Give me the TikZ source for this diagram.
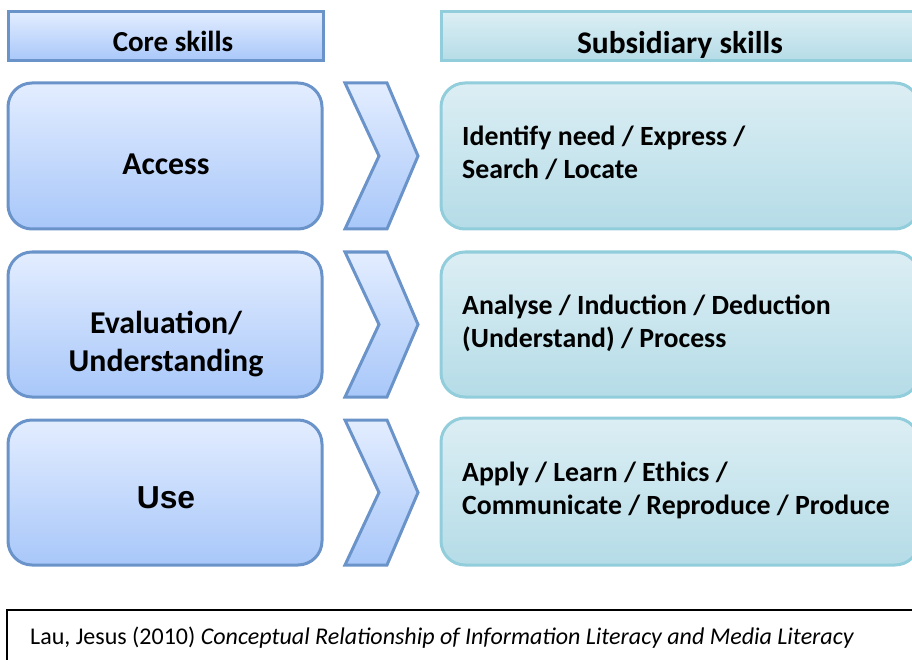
\documentclass[tikz,border=0pt]{standalone}
\usepackage{fontspec}
\setmainfont{Carlito}
\newfontfamily\arialfont{Liberation Sans}
\definecolor{lbTop}{HTML}{E3EDFF}
\definecolor{lbBot}{HTML}{A8C7F9}
\definecolor{lbLine}{HTML}{6A94C9}
\definecolor{rbTop}{HTML}{DCEEF4}
\definecolor{rbBot}{HTML}{B5DCE7}
\definecolor{rbLine}{HTML}{92CDDC}
\begin{document}
\begin{tikzpicture}[x=1pt,y=-1pt,
  leftbox/.style={draw=lbLine,line width=3pt,top color=lbTop,bottom color=lbBot,rounded corners=24pt,inner sep=0pt},
  lefthead/.style={draw=lbLine,line width=3pt,top color=lbTop,bottom color=lbBot,inner sep=0pt},
  rightbox/.style={draw=rbLine,line width=3pt,top color=rbTop,bottom color=rbBot,rounded corners=24pt,inner sep=0pt},
  righthead/.style={draw=rbLine,line width=3pt,top color=rbTop,bottom color=rbBot,inner sep=0pt},
  lefttext/.style={align=center,inner sep=0pt,font=\bfseries\fontsize{31.8}{38}\selectfont},
  righttext/.style={anchor=west,align=left,inner sep=0pt,font=\bfseries\fontsize{27.8}{33}\selectfont},
  chevron/.style={draw=lbLine,line width=3pt,top color=lbTop,bottom color=lbBot,line join=miter}]
\useasboundingbox (0,0) rectangle (912,660);
\clip (0,0) rectangle (912,660);
% headers
\node[lefthead,minimum width=315pt,minimum height=49pt] (corehead) at (165.5,36.5) {};
\node[inner sep=0pt,font=\bfseries\fontsize{29}{30}\selectfont] (coretxt) at (173,41) {Core skills};
\node[righthead,minimum width=480pt,minimum height=49pt] (subhead) at (681,36.5) {};
\node[inner sep=0pt,font=\bfseries\fontsize{31.5}{32}\selectfont] (subheadtxt) at (680,45) {Subsidiary skills};
% left boxes
\node[leftbox,minimum width=314pt,minimum height=146pt] (access) at (165,156) {};
\node[lefttext] (accesstxt) at (166,164) {Access};
\node[leftbox,minimum width=314pt,minimum height=145pt] (eval) at (165,324.5) {};
\node[lefttext] (evaltxt) at (166,344) {Evaluation/\\Understanding};
\node[leftbox,minimum width=314pt,minimum height=145pt] (use) at (165,492.5) {};
\node[inner sep=0pt,font=\arialfont\bfseries\fontsize{31.8}{32}\selectfont] (usetxt) at (166,497.5) {Use};
% chevrons
\foreach \t/\b/\n in {83/229/c1,252/397/c2,420/565/c3}{
  \coordinate (\n a) at (345,\t);
  \coordinate (\n b) at (387,\t);
  \coordinate (\n c) at (418,{(\t+\b)/2});
  \coordinate (\n d) at (387,\b);
  \coordinate (\n e) at (345,\b);
  \coordinate (\n f) at (379,{(\t+\b)/2});
  \path[chevron] (\n a) -- (\n b) -- (\n c) -- (\n d) -- (\n e) -- (\n f) -- cycle;
}
% right boxes
\node[rightbox,minimum width=478pt,minimum height=146pt] (r1) at (680,156) {};
\node[righttext] (r1txt) at (462,153) {Identify need / Express /\\Search / Locate};
\node[rightbox,minimum width=478pt,minimum height=145pt] (r2) at (680,324.5) {};
\node[righttext] (r2txt) at (462,323) {Analyse / Induction / Deduction\\(Understand) / Process};
\node[rightbox,minimum width=478pt,minimum height=147pt] (r3) at (680,491.5) {};
\node[righttext] (r3txt) at (462,490) {Apply / Learn / Ethics /\\Communicate / Reproduce / Produce};
% citation
\node[draw=black,line width=1.5pt,minimum width=910pt,minimum height=80pt,inner sep=0pt] (cite) at (462,650) {};
\node[anchor=west,inner sep=0pt,font=\fontsize{24}{28}\selectfont] (citetxt) at (30,638) {Lau, Jesus (2010) \textit{Conceptual Relationship of Information Literacy and Media Literacy}};
\end{tikzpicture}
\end{document}
